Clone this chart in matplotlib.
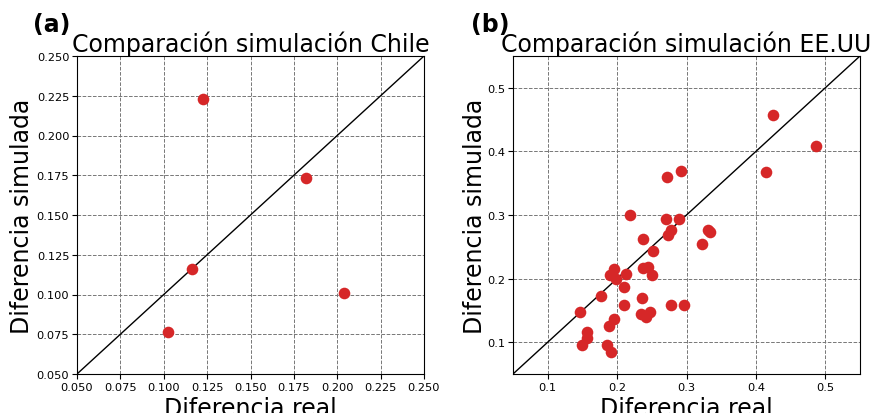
import matplotlib
matplotlib.use("Agg")
import matplotlib.pyplot as plt

# Chile: real vs simulated difference
chile_real = [0.1226, 0.182, 0.1161, 0.2039, 0.1026]
chile_sim = [0.223, 0.173, 0.116, 0.1008, 0.0764]

# EE.UU: real vs simulated difference
usa_real = [0.272, 0.292, 0.219, 0.270, 0.289, 0.277, 0.273, 0.331, 0.334,
            0.323, 0.238, 0.252, 0.196, 0.190, 0.199, 0.213, 0.237, 0.245,
            0.250, 0.210, 0.177, 0.236, 0.210, 0.277, 0.297, 0.146, 0.235,
            0.241, 0.247, 0.196, 0.188, 0.156, 0.156, 0.149, 0.186, 0.191,
            0.424, 0.486, 0.415]
usa_sim = [0.360, 0.369, 0.300, 0.294, 0.293, 0.277, 0.268, 0.276, 0.273,
           0.255, 0.262, 0.244, 0.215, 0.206, 0.199, 0.208, 0.216, 0.218,
           0.206, 0.187, 0.173, 0.169, 0.159, 0.159, 0.159, 0.148, 0.145,
           0.139, 0.147, 0.136, 0.126, 0.116, 0.107, 0.096, 0.095, 0.084,
           0.458, 0.409, 0.367]

chile_lim = (0.05, 0.25)
usa_lim = (0.05, 0.55)
chile_ticks = [0.05, 0.075, 0.1, 0.125, 0.15, 0.175, 0.2, 0.225, 0.25]
usa_ticks = [0.1, 0.2, 0.3, 0.4, 0.5]

W, H = 877, 414
fig = plt.figure(figsize=(W / 100, H / 100), dpi=100)
ax1 = fig.add_axes([77 / W, 1 - 375 / H, 347 / W, 318 / H])
ax2 = fig.add_axes([513 / W, 1 - 375 / H, 347 / W, 318 / H])

panels = [
    (ax1, chile_real, chile_sim, chile_lim, chile_ticks, "Comparación simulación Chile", "(a)", -0.072, 2),
    (ax2, usa_real, usa_sim, usa_lim, usa_ticks, "Comparación simulación EE.UU", "(b)", -0.066, 0),
]

for ax, xr, ys, lim, ticks, title, tag, tagx, ypad in panels:
    ax.plot(lim, lim, color="black", lw=1, zorder=2)
    ax.scatter(xr, ys, s=70, color="#d62728", zorder=3, linewidths=0)
    ax.set_xlim(lim)
    ax.set_ylim(lim)
    ax.set_xticks(ticks)
    ax.set_yticks(ticks)
    if ax is ax1:
        ax.set_xticklabels([f"{t:.3f}" for t in ticks])
        ax.set_yticklabels([f"{t:.3f}" for t in ticks])
    ax.tick_params(labelsize=8.2, length=3.5, pad=2)
    ax.grid(True, linestyle="--", color="#777777", lw=0.7)
    ax.set_axisbelow(True)
    ax.set_title(title, fontsize=17, pad=3)
    ax.set_xlabel("Diferencia real", fontsize=17, labelpad=3)
    ax.set_ylabel("Diferencia simulada", fontsize=17, labelpad=ypad)
    ax.text(tagx, 1.063, tag, transform=ax.transAxes, fontsize=17,
            fontweight="bold", ha="center", va="bottom")

fig.savefig("out.png", dpi=100)
